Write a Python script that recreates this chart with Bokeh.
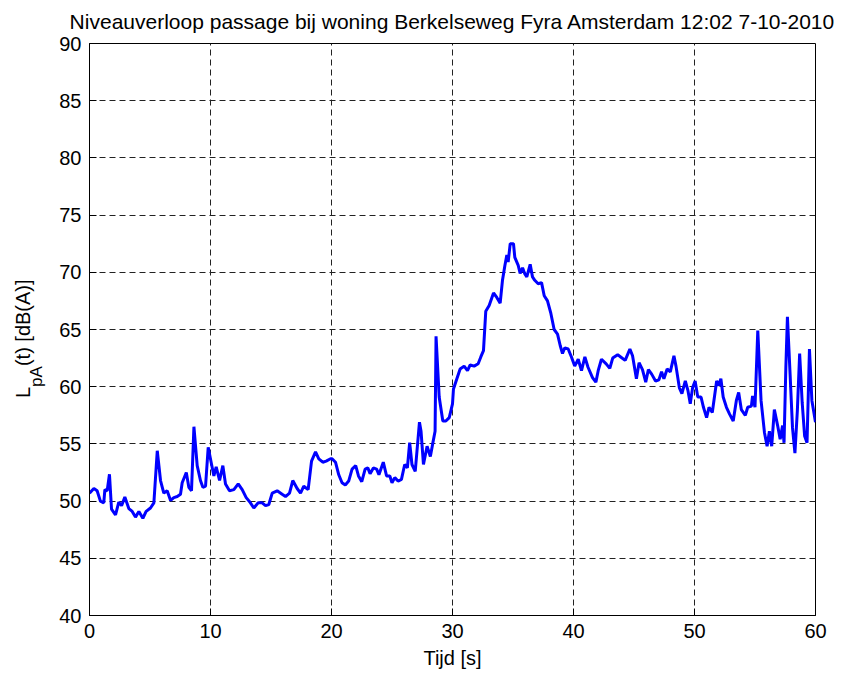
from bokeh.plotting import figure
from bokeh.models import FixedTicker, Range1d, Div
from bokeh.layouts import row
from bokeh.embed import file_html
from bokeh.resources import INLINE

# ---- data ----
title_text = "Niveauverloop passage bij woning Berkelseweg Fyra Amsterdam 12:02 7-10-2010"
x_label = "Tijd [s]"
y_label_main = "L"
y_label_sub = "pA"
y_label_rest = "(t) [dB(A)]"
x_ticks = [0, 10, 20, 30, 40, 50, 60]
y_ticks = [40, 45, 50, 55, 60, 65, 70, 75, 80, 85, 90]

t_s = [0.0, 0.36, 0.63, 0.9, 1.18, 1.27, 1.46, 1.65, 1.82, 2.15, 2.42, 2.65, 2.92, 3.25, 3.53,
       3.8, 4.08, 4.41, 4.68, 5.04, 5.32, 5.6, 5.87, 6.14, 6.42, 6.7, 6.97, 7.25, 7.52, 7.66,
       8.0, 8.21, 8.43, 8.63, 8.9, 9.17, 9.37, 9.59, 9.81, 10.09, 10.28, 10.47, 10.75, 11.02,
       11.24, 11.57, 11.93, 12.29, 12.62, 12.95, 13.3, 13.58, 13.94, 14.27, 14.55, 14.82, 15.1,
       15.51, 15.92, 16.2, 16.53, 16.8, 17.16, 17.44, 17.71, 18.07, 18.35, 18.68, 18.95, 19.28,
       19.56, 19.92,
       20.05, 20.33, 20.6, 20.87, 21.14, 21.42, 21.7, 22.0, 22.23, 22.5, 22.78, 23.0, 23.19,
       23.46, 23.73, 23.92, 24.28, 24.55, 24.82, 25.0, 25.23, 25.5, 25.78, 26.05, 26.27, 26.46,
       26.65, 26.92, 27.27, 27.4, 27.6, 27.9, 28.17, 28.36, 28.56, 28.64, 28.9, 29.2, 29.45,
       29.73, 30.0, 30.08,
       30.36, 30.63, 30.96, 31.24, 31.46, 31.79, 32.12, 32.34, 32.56, 32.75, 33.03, 33.39,
       33.66, 33.94, 34.13, 34.33, 34.49, 34.6, 34.77, 35.04, 35.15, 35.43, 35.59, 35.79, 35.98,
       36.14, 36.42, 36.61, 36.8, 37.08, 37.36, 37.58, 37.85, 38.13, 38.4, 38.68, 38.9, 39.09,
       39.28, 39.56, 39.83, 40.1, 40.39, 40.66, 40.94, 41.2, 41.57, 41.85, 42.04, 42.31,
       42.7, 43.0, 43.24, 43.65, 43.9, 44.27, 44.66, 44.88, 45.2, 45.42, 45.7, 45.97, 46.19,
       46.46, 46.78, 47.06, 47.28, 47.47, 47.74, 48.0, 48.3, 48.47, 48.75, 48.96, 49.24, 49.46,
       49.65, 49.84, 50.05, 50.27, 50.54, 50.74, 51.0, 51.2, 51.47, 51.83, 52.0, 52.18, 52.37,
       52.64, 52.9, 53.2, 53.46, 53.65, 53.87, 54.2, 54.4, 54.7, 54.8, 55.0, 55.23, 55.5, 55.78,
       56.0, 56.19, 56.38, 56.6, 56.87, 57.08, 57.28, 57.4, 57.55, 57.68, 57.9, 58.1, 58.3,
       58.5, 58.69, 58.9, 59.1, 59.3, 59.5, 59.7, 60.0]

lpa_db = [50.7, 51.1, 50.9, 50.0, 49.85, 51.0, 50.9, 52.35, 49.3, 48.8, 49.9, 49.6, 50.35, 49.35,
          49.1, 48.6, 49.1, 48.5, 49.1, 49.4, 49.85, 54.4, 51.8, 50.7, 50.9, 50.06, 50.3, 50.4,
          50.6, 51.6, 52.5, 51.2, 50.9, 56.5, 53.1, 51.8, 51.2, 51.3, 54.7, 53.2, 52.2, 53.0,
          51.8, 53.1, 51.5, 50.9, 51.0, 51.5, 51.0, 50.3, 49.85, 49.4, 49.85, 49.85, 49.6, 49.7,
          50.7, 50.9, 50.6, 50.4, 50.7, 51.8, 51.1, 50.7, 51.3, 51.0, 53.5, 54.3, 53.7, 53.4,
          53.5, 53.7,
          53.7, 53.4, 52.3, 51.6, 51.4, 51.75, 52.8, 53.1, 52.2, 51.7, 52.8, 52.9, 52.4, 52.9,
          52.8, 52.3, 53.4, 52.2, 52.2, 51.6, 52.05, 51.75, 51.9, 53.2, 52.9, 55.1, 53.2, 52.6,
          56.9, 56.1, 53.2, 54.8, 53.9, 55.0, 56.1, 64.4, 59.1, 57.0, 57.0, 57.3, 58.5, 59.8,
          60.7, 61.55, 61.8, 61.4, 61.9, 61.8, 62.0, 62.6, 63.15, 66.6, 67.1, 68.2, 67.8, 67.3,
          69.3, 70.6, 71.5, 70.9, 72.5, 72.5, 71.3, 70.6, 69.9, 70.4, 69.85, 69.6, 70.7, 69.6,
          69.3, 69.0, 69.1, 67.95, 67.5, 66.4, 65.0, 64.6, 63.6, 62.9, 63.4, 63.3, 62.6, 61.8,
          62.4, 61.4, 62.6, 61.7, 60.8, 60.4, 61.4, 62.4,
          62.0, 61.6, 62.5, 62.8, 62.6, 62.3, 63.3, 62.7, 60.7, 62.1, 61.5, 60.4, 61.5, 61.1,
          60.5, 60.6, 61.3, 60.7, 61.55, 61.3, 62.7, 61.8, 59.9, 59.4, 60.5, 59.65, 58.5, 59.9,
          60.5, 59.1, 59.1, 58.2, 57.3, 58.2, 57.75, 60.5, 60.1, 60.7, 59.1, 58.2, 57.6, 57.0,
          58.8, 59.5, 58.0, 57.5, 58.2, 58.3, 59.2, 58.2, 64.9, 58.8, 56.0, 54.8, 56.1, 54.8,
          58.0, 56.6, 55.4, 56.6, 55.1, 61.7, 66.1, 61.1, 56.4, 54.2, 57.9, 62.9, 58.6, 55.7,
          55.1, 63.3, 58.8, 56.9]

FONT = "Liberation Sans, Arial, Helvetica, sans-serif"
LEFT_W = 50

p = figure(width=836 - LEFT_W, height=671, output_backend="svg", toolbar_location=None,
           x_range=Range1d(0, 60), y_range=Range1d(40, 90),
           min_border_left=89 - LEFT_W, min_border_right=21, min_border_top=43,
           min_border_bottom=55)

p.title.text = title_text
p.title.align = "center"
p.title.text_font = FONT
p.title.text_font_size = "21px"
p.title.text_font_style = "normal"
p.title.text_color = "black"
p.title.vertical_align = "top"
p.title.standoff = 18

p.line(t_s, lpa_db, line_color="#0000FF", line_width=3)

for ax in (p.xaxis[0], p.yaxis[0]):
    ax.major_label_text_font = FONT
    ax.major_label_text_font_size = "20px"
    ax.major_label_text_color = "black"
    ax.axis_line_color = "black"
    ax.major_tick_line_color = "black"
    ax.major_tick_in = 7
    ax.major_tick_out = 0
    ax.minor_tick_line_color = None
    ax.axis_label_text_font = FONT
    ax.axis_label_text_font_style = "normal"
    ax.axis_label_text_font_size = "20px"
    ax.axis_label_text_color = "black"

p.xaxis[0].ticker = FixedTicker(ticks=x_ticks)
p.yaxis[0].ticker = FixedTicker(ticks=y_ticks)
p.xaxis[0].axis_label = x_label
p.xaxis[0].major_label_standoff = 8
p.xaxis[0].axis_label_standoff = 6
p.yaxis[0].major_label_standoff = 8

p.xgrid.ticker = FixedTicker(ticks=x_ticks)
p.ygrid.ticker = FixedTicker(ticks=y_ticks)
for g in (p.xgrid[0], p.ygrid[0]):
    g.grid_line_color = "#222222"
    g.grid_line_dash = "6 4"
    g.grid_line_width = 1

p.outline_line_color = "black"
p.background_fill_color = "white"
p.border_fill_color = "white"

# rotated y-axis label with subscript (HTML text), placed left of the figure
ylab_html = (
    '<div style="position:absolute; left:13px; top:398px; transform:rotate(-90deg); '
    'transform-origin:0 0; white-space:nowrap; font-family:\'Liberation Sans\', Arial, sans-serif; '
    'font-size:20px; line-height:20px; color:black;">'
    + y_label_main
    + '<span style="font-size:17px; position:relative; top:12px;">' + y_label_sub + '</span>'
    + y_label_rest + '</div>'
)
ylab = Div(text=ylab_html, width=LEFT_W, height=671, margin=0,
           styles={"position": "relative", "overflow": "visible", "background": "white"})

layout = row(ylab, p, spacing=0)
open("out.html", "w").write(file_html(layout, INLINE))
